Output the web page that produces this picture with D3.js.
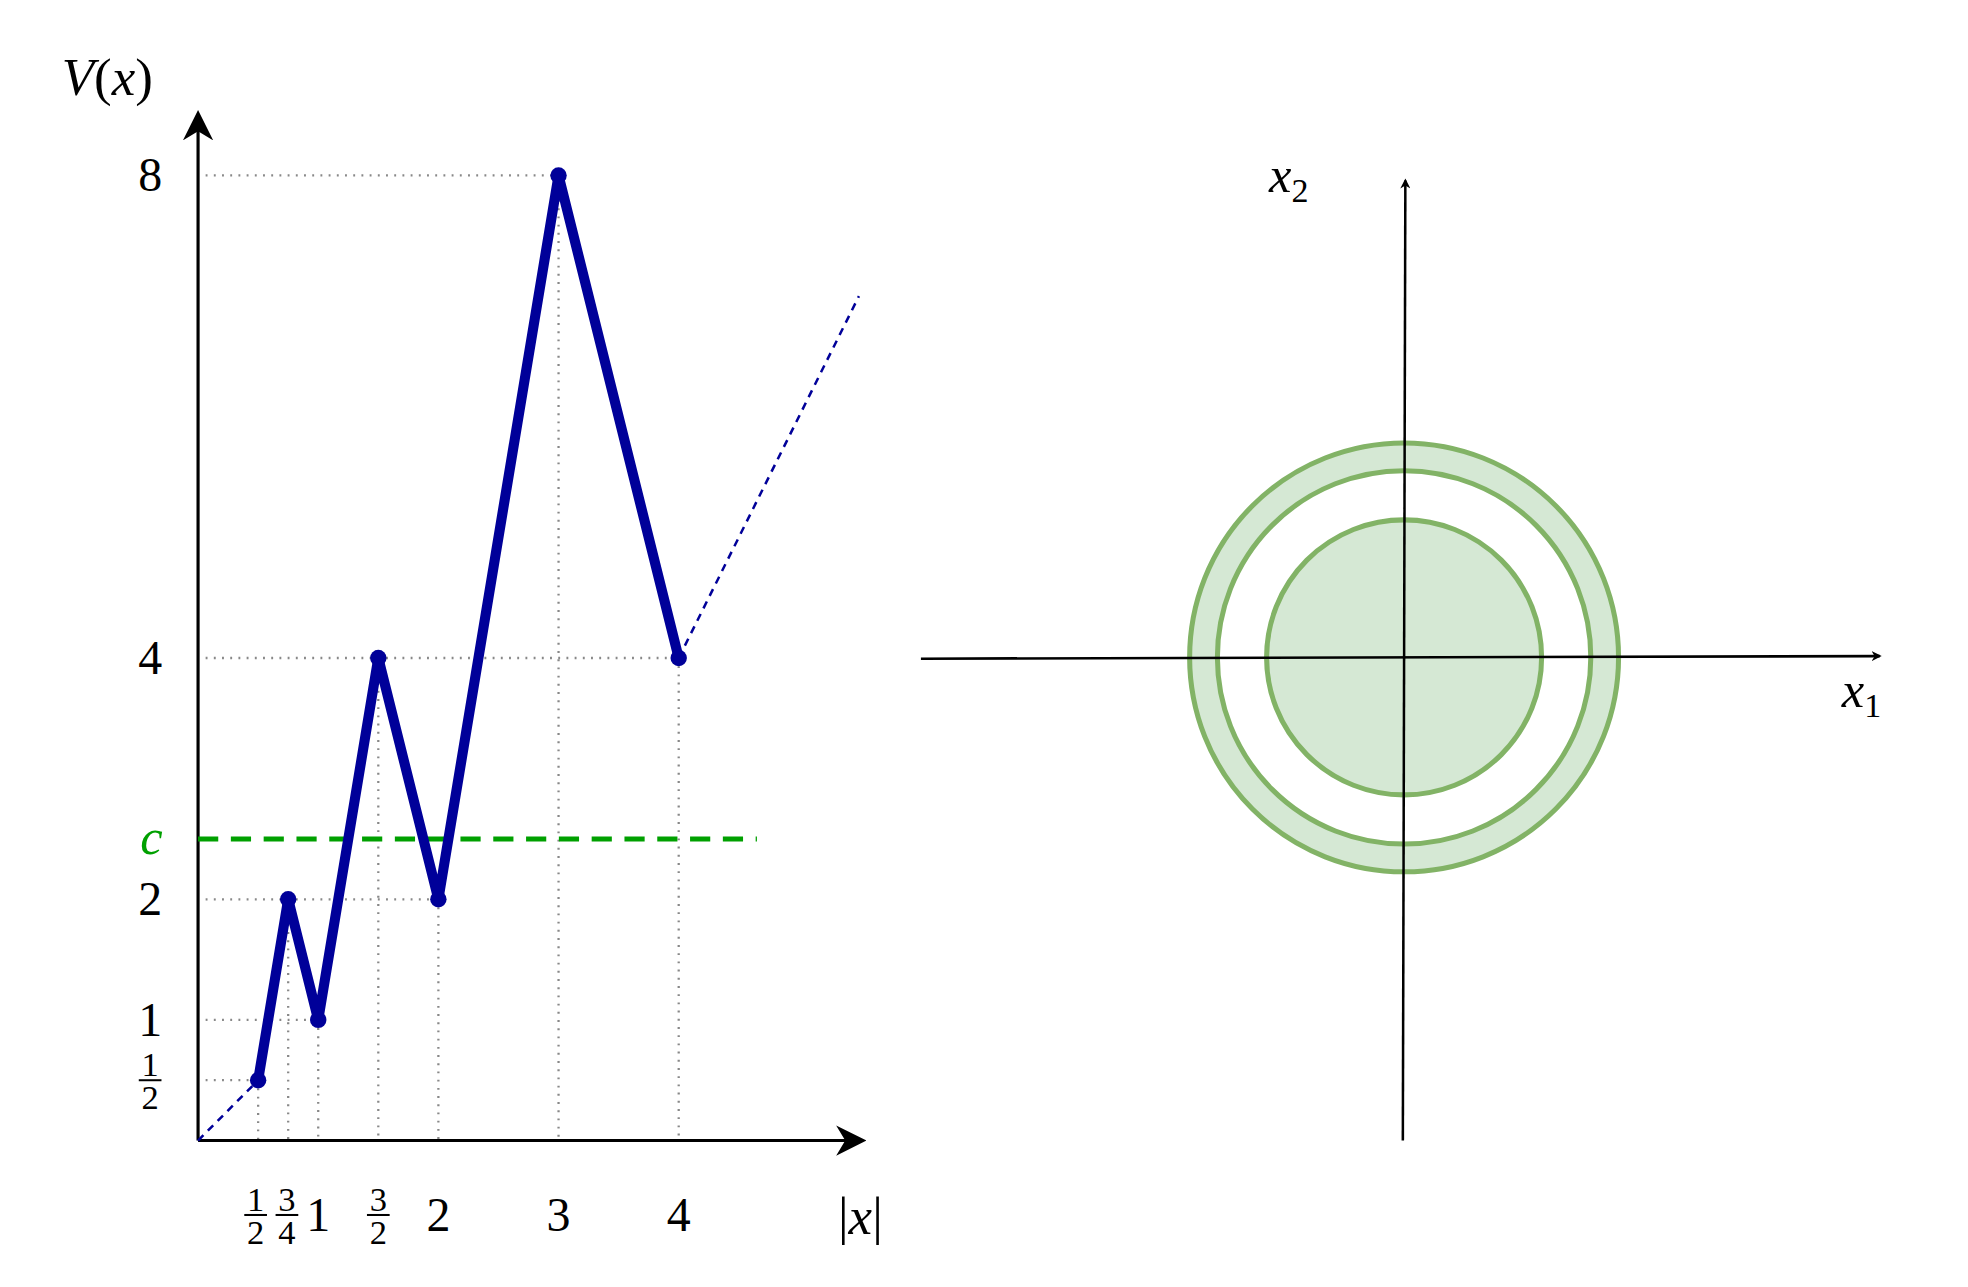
<!DOCTYPE html>
<html><head><meta charset="utf-8">
<script src="https://cdn.jsdelivr.net/npm/d3@7"></script>
<style>body{margin:0;background:#fff}text{font-family:"Liberation Serif",serif}</style>
</head><body>
<svg id="chart" width="1968" height="1287" viewBox="0 0 1560 1020"></svg>
<script>
// data
const pointsX = [0.5, 0.75, 1, 1.5, 2, 3, 4]
const pointsY = [0.5, 2, 1, 4, 2, 8, 4]
const tailStart = [4, 4], tailEnd = [5.5, 7]
const cLevel = 2.5
const xTicks = [["1","2"], ["3","4"], "1", ["3","2"], "2", "3", "4"]
const xTickVals = [0.5, 0.75, 1, 1.5, 2, 3, 4]
const yTicks = [["1","2"], "1", "2", "4", "8"]
const yTickVals = [0.5, 1, 2, 4, 8]
const radii = [1.09, 1.48, 1.70]

const svg = d3.select("#chart")
const defs = svg.append("defs")
defs.append("marker").attr("id", "arr").attr("viewBox", "0 0 10 10").attr("refX", 8).attr("refY", 5)
    .attr("markerWidth", 8).attr("markerHeight", 8).attr("orient", "auto").attr("markerUnits", "userSpaceOnUse")
  .append("path").attr("d", "M0,0 L10,5 L0,10 L3,5 Z").attr("fill", "#000")
defs.append("marker").attr("id", "arrBig").attr("viewBox", "0 0 10 10").attr("refX", 8).attr("refY", 5)
    .attr("markerWidth", 24).attr("markerHeight", 24).attr("orient", "auto").attr("markerUnits", "userSpaceOnUse")
  .append("path").attr("d", "M0,0 L10,5 L0,10 L3,5 Z").attr("fill", "#000")

// left panel
const x = d3.scaleLinear().domain([0, 4]).range([157, 538])
const y = d3.scaleLinear().domain([0, 8]).range([904, 139])
const L = svg.append("g")

const pts = pointsX.map((v, i) => [v, pointsY[i]])
// dotted guides
pts.forEach(([a, b]) => {
    L.append("line").attr("x1", x(a)).attr("x2", x(a)).attr("y1", y(b)).attr("y2", y(0))
        .attr("stroke", "#888").attr("stroke-width", 1.8).attr("stroke-dasharray", "1.5,5")
})
;[[0.5,0.5],[1,1],[2,2],[4,4],[8,3]].forEach(([b, a]) => {
    L.append("line").attr("x1", x(0) + 6).attr("x2", x(a)).attr("y1", y(b)).attr("y2", y(b))
        .attr("stroke", "#888").attr("stroke-width", 1.8).attr("stroke-dasharray", "1.5,5")
})
// axes
L.append("line").attr("x1", x(0)).attr("y1", y(0)).attr("x2", 682).attr("y2", y(0))
    .attr("stroke", "#000").attr("stroke-width", 2.5).attr("marker-end", "url(#arrBig)")
L.append("line").attr("x1", x(0)).attr("y1", y(0)).attr("x2", x(0)).attr("y2", 92)
    .attr("stroke", "#000").attr("stroke-width", 2.5).attr("marker-end", "url(#arrBig)")
// c line
L.append("line").attr("x1", x(0)).attr("x2", 600).attr("y1", y(cLevel)).attr("y2", y(cLevel))
    .attr("stroke", "#00a000").attr("stroke-width", 4).attr("stroke-dasharray", "16,10")
// dashed tails
L.append("line").attr("x1", x(0)).attr("y1", y(0)).attr("x2", x(0.5)).attr("y2", y(0.5))
    .attr("stroke", "#000099").attr("stroke-width", 2).attr("stroke-dasharray", "6,5")
L.append("line").attr("x1", x(tailStart[0])).attr("y1", y(tailStart[1])).attr("x2", x(tailEnd[0])).attr("y2", y(tailEnd[1]))
    .attr("stroke", "#000099").attr("stroke-width", 2).attr("stroke-dasharray", "6,5")
// main line
L.append("path").datum(pts).attr("fill", "none").attr("stroke", "#000099").attr("stroke-width", 8)
    .attr("stroke-linejoin", "round").attr("d", d3.line().x(d => x(d[0])).y(d => y(d[1])))
L.selectAll("circle.pt").data(pts).enter().append("circle").attr("class", "pt")
    .attr("cx", d => x(d[0])).attr("cy", d => y(d[1])).attr("r", 6.5).attr("fill", "#000099")

function label(g, t, cx, cy, size, fill) {
    if (Array.isArray(t)) {
        const s = size * 0.72
        g.append("text").attr("x", cx).attr("y", cy - 3).attr("text-anchor", "middle").attr("font-size", s).attr("fill", fill).text(t[0])
        g.append("line").attr("x1", cx - 9).attr("x2", cx + 9).attr("y1", cy).attr("y2", cy).attr("stroke", fill).attr("stroke-width", 1.6)
        g.append("text").attr("x", cx).attr("y", cy + s * 0.72 + 3).attr("text-anchor", "middle").attr("font-size", s).attr("fill", fill).text(t[1])
    } else {
        g.append("text").attr("x", cx).attr("y", cy + size * 0.33).attr("text-anchor", "middle").attr("font-size", size).attr("fill", fill).text(t)
    }
}
xTicks.forEach((t, i) => {
    let cx = x(xTickVals[i])
    if (xTickVals[i] === 0.5) cx -= 2
    if (xTickVals[i] === 0.75) cx -= 1
    label(L, t, cx, 963, 38, "#000")
})
yTicks.forEach((t, i) => label(L, t, 119, y(yTickVals[i]), 38, "#000"))
L.append("text").attr("x", 120).attr("y", y(cLevel) + 12).attr("text-anchor", "middle").attr("font-size", 40)
    .attr("font-style", "italic").attr("fill", "#00a000").text("c")
L.append("text").attr("x", 85).attr("y", 75).attr("text-anchor", "middle").attr("font-size", 42).html("<tspan font-style='italic'>V</tspan>(<tspan font-style='italic'>x</tspan>)")
L.append("text").attr("x", 682).attr("y", 978).attr("text-anchor", "middle").attr("font-size", 42).html("|<tspan font-style='italic'>x</tspan>|")

// right panel
const s = d3.scaleLinear().domain([0, 1]).range([0, 100])
const cx0 = 1113, cy0 = 521
const R = svg.append("g")
R.append("path").attr("fill", "#d5e8d4")
    .attr("d", d3.arc()({innerRadius: s(radii[1]), outerRadius: s(radii[2]), startAngle: 0, endAngle: 2 * Math.PI}))
    .attr("transform", `translate(${cx0},${cy0})`)
R.selectAll("circle").data(radii).enter().append("circle")
    .attr("cx", cx0).attr("cy", cy0).attr("r", d => s(d))
    .attr("fill", (d, i) => i === 0 ? "#d5e8d4" : "none").attr("stroke", "#82b366").attr("stroke-width", 4)
R.append("line").attr("x1", 730).attr("y1", 522).attr("x2", 1490).attr("y2", 520)
    .attr("stroke", "#000").attr("stroke-width", 2).attr("marker-end", "url(#arr)")
R.append("line").attr("x1", 1112).attr("y1", 904).attr("x2", 1114).attr("y2", 143)
    .attr("stroke", "#000").attr("stroke-width", 2).attr("marker-end", "url(#arr)")
R.append("text").attr("x", 1460).attr("y", 560).attr("font-size", 40).html("<tspan font-style='italic'>x</tspan><tspan font-size='27' dy='8'>1</tspan>")
R.append("text").attr("x", 1006).attr("y", 152).attr("font-size", 40).html("<tspan font-style='italic'>x</tspan><tspan font-size='27' dy='8'>2</tspan>")
</script>
</body></html>
